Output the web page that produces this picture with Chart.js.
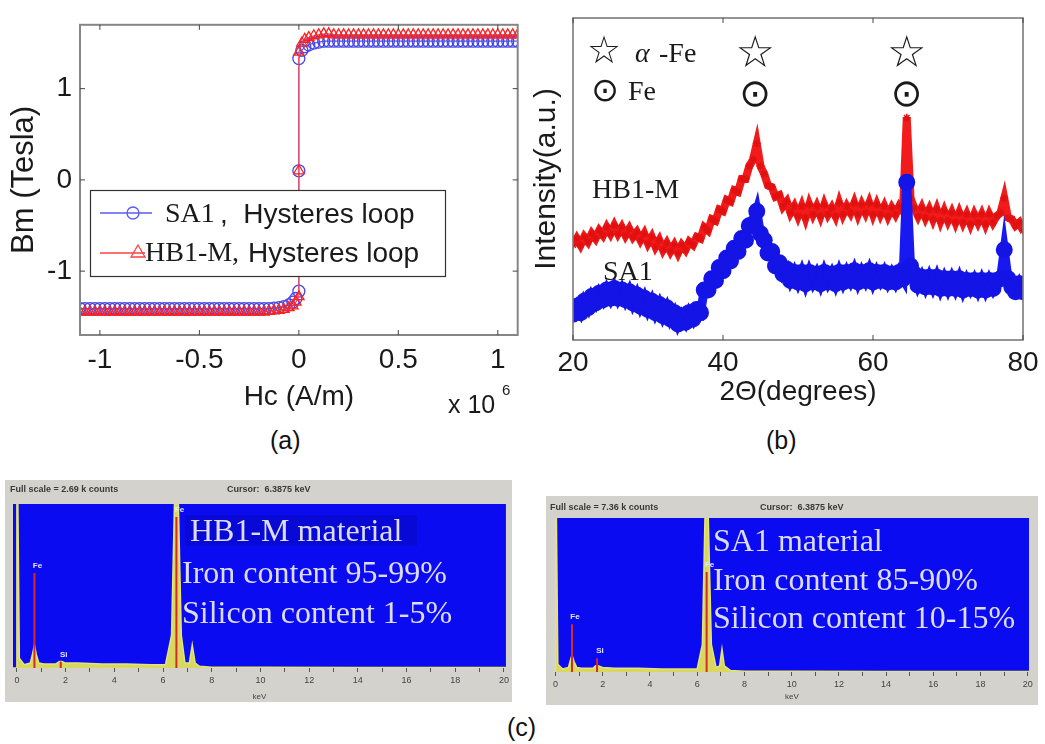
<!DOCTYPE html>
<html lang="en">
<head>
<meta charset="UTF-8">
<title>Hysteresis loop, XRD and EDS</title>
<script src="https://cdn.jsdelivr.net/npm/chart.js"></script>
<style>
  body { margin: 0; background: #fff; width: 1045px; height: 744px; position: relative; overflow: hidden;
         font-family: "Liberation Sans", Arial, sans-serif; }
  canvas { position: absolute; }
  .cap { position: absolute; font-size: 25px; color: #111; line-height: 30px; }
</style>
</head>
<body>
<canvas id="chart_hyst" width="525" height="420" style="left:0;top:0"></canvas>
<canvas id="chart_xrd" width="525" height="420" style="left:520px;top:0"></canvas>
<canvas id="chart_eds_hb1" width="507" height="222" style="left:5px;top:480px;background:#d4d2cc"></canvas>
<canvas id="chart_eds_sa1" width="492" height="209" style="left:546px;top:496px;background:#d4d2cc"></canvas>
<div class="cap" style="left:270px;top:425px">(a)</div>
<div class="cap" style="left:766px;top:425px">(b)</div>
<div class="cap" style="left:507px;top:712px">(c)</div>

<script>
// ---- (a) hysteresis loop ----
const hcValues = [-1.1,-1.075,-1.05,-1.025,-1,-0.975,-0.95,-0.925,-0.9,-0.875,-0.85,-0.825,-0.8,-0.775,-0.75,-0.725,-0.7,-0.675,-0.65,
  -0.625,-0.6,-0.575,-0.55,-0.525,-0.5,-0.475,-0.45,-0.425,-0.4,-0.375,-0.35,-0.325,-0.3,-0.275,-0.25,-0.225,-0.2,-0.175,
  -0.15,-0.125,-0.1,-0.075,-0.05,-0.03,-0.015,0,0,0,0.015,0.03,0.05,0.075,0.1,0.125,0.15,
  0.175,0.2,0.225,0.25,0.275,0.3,0.325,0.35,0.375,0.4,0.425,0.45,0.475,0.5,0.525,0.55,0.575,0.6,0.625,
  0.65,0.675,0.7,0.725,0.75,0.775,0.8,0.825,0.85,0.875,0.9,0.925,0.95,0.975,1,1.025,1.05,1.075,1.1];
const bmSA1 = [-1.41,-1.41,-1.41,-1.41,-1.41,-1.41,-1.41,-1.41,-1.41,-1.41,-1.41,-1.41,-1.41,-1.41,-1.41,-1.41,-1.41,-1.41,-1.41,
  -1.41,-1.41,-1.41,-1.41,-1.41,-1.41,-1.41,-1.41,-1.41,-1.41,-1.41,-1.41,-1.41,-1.41,-1.41,-1.41,-1.41,-1.41,-1.41,
  -1.41,-1.405,-1.40,-1.39,-1.37,-1.34,-1.30,-1.22,0.10,1.33,1.42,1.46,1.48,1.50,1.51,1.52,1.52,
  1.52,1.52,1.52,1.52,1.52,1.52,1.52,1.52,1.52,1.52,1.52,1.52,1.52,1.52,1.52,1.52,1.52,1.52,1.52,
  1.52,1.52,1.52,1.52,1.52,1.52,1.52,1.52,1.52,1.52,1.52,1.52,1.52,1.52,1.52,1.52,1.52,1.52,1.52];
const bmHB1 = [-1.45,-1.45,-1.45,-1.45,-1.45,-1.45,-1.45,-1.45,-1.45,-1.45,-1.45,-1.45,-1.45,-1.45,-1.45,-1.45,-1.45,-1.45,-1.45,
  -1.45,-1.45,-1.45,-1.45,-1.45,-1.45,-1.45,-1.45,-1.45,-1.45,-1.45,-1.45,-1.45,-1.45,-1.45,-1.45,-1.45,-1.45,-1.45,
  -1.44,-1.435,-1.43,-1.42,-1.40,-1.38,-1.34,-1.28,0.10,1.40,1.50,1.54,1.56,1.58,1.59,1.60,1.60,
  1.59,1.59,1.59,1.59,1.59,1.59,1.59,1.59,1.59,1.59,1.59,1.59,1.59,1.59,1.59,1.59,1.59,1.59,1.59,
  1.59,1.59,1.59,1.59,1.59,1.59,1.59,1.59,1.59,1.59,1.59,1.59,1.59,1.59,1.59,1.59,1.59,1.59,1.59];
const hcTicks = [-1, -0.5, 0, 0.5, 1];
const bmTicks = [-1, 0, 1];

// ---- (b) XRD ----
const twoTheta = [20,20.5,21,21.5,22,22.5,23,23.5,24,24.5,25,25.5,26,26.5,27,27.5,28,28.5,29,29.5,
  30,30.5,31,31.5,32,32.5,33,33.5,34,34.5,35,35.5,36,36.5,37,37.5,38,38.5,39,39.5,
  40,40.5,41,41.5,42,42.5,43,43.5,44,44.5,45,45.5,46,46.5,47,47.5,48,48.5,49,49.5,
  50,50.5,51,51.5,52,52.5,53,53.5,54,54.5,55,55.5,56,56.5,57,57.5,58,58.5,59,59.5,
  60,60.5,61,61.5,62,62.5,63,63.5,64,64.5,65,65.5,66,66.5,67,67.5,68,68.5,69,69.5,
  70,70.5,71,71.5,72,72.5,73,73.5,74,74.5,75,75.5,76,76.5,77,77.5,78,78.5,79,79.5,80];
const intHB1 = [29.5,31.5,29.5,32,30.5,33,31.5,34,32.5,35,
  33,35.5,33,35,32.5,34.5,32,33.5,31,33,
  30,32,29,31,28,30,27.5,29.5,27,29.5,
  28,30.5,29.5,32,31.5,35,34,37.5,37,40.5,
  40,43.5,43,46.5,46,50,50,54,56,61,
  54,51.5,48,47.5,44.5,45,41.5,43,39.5,41.5,
  38.5,41.5,38,42,39,41.5,38.5,42,39,41,
  38.5,42.5,39,41.5,39.5,42.5,39,42,39.5,42.5,
  39,42,39,41.5,38.5,41,39,41.5,40,69,
  44,41,38.5,41,38,40.5,37.5,40.5,37,40,
  37,39.5,36.5,39.5,36.5,39,36,39,36.5,39,
  36,39,36.5,38.5,39.5,44,38,37.5,35.5,36.5,34];
const intSA1 = [8,10.5,8.5,12,10,13.5,11.5,14.5,12.5,15.5,
  13,16,13,15.5,12.5,15,11.5,14,10.5,13,
  9.5,12,8.5,11,7.5,10,6.5,8.5,5,7.5,
  5.5,8.5,6.5,9.5,8.5,15.5,15.5,19,18.5,22.5,
  21.5,25.5,24.5,28.5,27.5,31.5,31,35.5,36,40,
  33,31,27,27.5,23,24,20.5,22,18.5,21,
  18,21,17.5,21,18,20.5,17.5,21,18,20.5,
  17.5,21,18,21,18.5,21.5,18,21,18.5,21.5,
  18,21,18.5,21,18,20.5,18,21,19,49,
  23,20.5,17,19.5,16.5,19.5,16.5,19.5,16,19,
  16,19,16,19,15.5,18.5,16,18.5,15.5,18.5,
  15.5,18.5,16,18.5,19,28,19,16.5,15,17.5,15];
const thetaTicks = [20, 40, 60, 80];
const peakTheta = [44.3, 64.5];

// ---- (c) EDS spectra ----
const keVTicks = [0,1,2,3,4,5,6,7,8,9,10,11,12,13,14,15,16,17,18,19,20];
const edsKeVHB1 = [-0.16,-0.02,0.0,0.04,0.1,0.3,0.55,0.65,0.72,0.8,0.9,1.1,1.6,1.75,1.85,2.0,2.5,3.5,4.5,5.5,6.1,6.35,6.47,6.55,6.63,6.75,6.9,7.08,7.2,7.32,7.5,8,10,14,20.08];
const edsCntHB1 = [0,0,100,100,6,2,3,9,14,8,3,2.5,2.5,4,4,3,3,2.5,2.5,2,2,20,100,100,100,20,3,3,14,3,1,0.5,0.5,0.3,0.3];
const markKeVHB1 = [0.72, 1.8, 6.55];
const markTopHB1 = [58, 4, 92];
const markNameHB1 = ['Fe', 'Si', 'Fe'];

const edsKeVSA1 = [-0.05,-0.02,0.0,0.04,0.1,0.3,0.55,0.62,0.7,0.78,0.9,1.1,1.6,1.7,1.8,2.0,2.5,3.5,4.5,5.5,6.0,6.22,6.33,6.4,6.47,6.6,6.8,6.95,7.05,7.15,7.4,8,10,14,20.05];
const edsCntSA1 = [0,0,100,100,5,2,3,7,11,7,3,2.5,2.5,4,4,3,2.5,2.5,2,2,2,18,100,100,100,18,3,4,15,4,1,0.5,0.5,0.3,0.3];
const markKeVSA1 = [0.7, 1.76, 6.4];
const markTopSA1 = [31, 9, 65];
const markNameSA1 = ['Fe', 'Si', 'Fe'];

const sans = '"Liberation Sans", Arial, sans-serif';
const serif = '"Liberation Serif", "Times New Roman", serif';
Chart.defaults.font.family = sans;
Chart.defaults.animation = false;

function pts(xs, ys) { return xs.map((x, i) => ({ x: x, y: ys[i] })); }
function fixTicks(list) { return scale => { scale.ticks = list.map(v => ({ value: v })); }; }

// matlab style box with inward ticks
const matlabBox = {
  id: 'matlabBox',
  afterDraw(chart, args, opts) {
    const { ctx, chartArea: a, scales } = chart;
    ctx.save();
    ctx.strokeStyle = opts.color || '#808080';
    ctx.lineWidth = opts.width || 2;
    ctx.strokeRect(a.left, a.top, a.right - a.left, a.bottom - a.top);
    ctx.lineWidth = 1;
    ctx.strokeStyle = '#444';
    ctx.beginPath();
    scales.x.ticks.forEach(t => {
      const p = scales.x.getPixelForValue(t.value);
      ctx.moveTo(p, a.bottom); ctx.lineTo(p, a.bottom - 5);
      ctx.moveTo(p, a.top); ctx.lineTo(p, a.top + 5);
    });
    if (opts.yTicks) {
      scales.y.ticks.forEach(t => {
        const p = scales.y.getPixelForValue(t.value);
        ctx.moveTo(a.left, p); ctx.lineTo(a.left + 5, p);
        ctx.moveTo(a.right, p); ctx.lineTo(a.right - 5, p);
      });
    }
    ctx.stroke();
    ctx.restore();
  }
};

// legend box and x10^6 for panel (a)
const hystLegend = {
  id: 'hystLegend',
  afterDraw(chart) {
    const ctx = chart.ctx;
    ctx.save();
    ctx.fillStyle = '#fff';
    ctx.fillRect(90, 190, 355, 86);
    ctx.strokeStyle = '#333';
    ctx.lineWidth = 1.2;
    ctx.strokeRect(90.5, 190.5, 355, 86);
    ctx.lineWidth = 1.3;
    // SA1 row
    ctx.strokeStyle = '#5a5aff';
    ctx.beginPath(); ctx.moveTo(100, 213); ctx.lineTo(152, 213); ctx.stroke();
    ctx.beginPath(); ctx.arc(133, 213, 6, 0, Math.PI * 2); ctx.stroke();
    // HB1-M row
    ctx.strokeStyle = '#ff4040';
    ctx.beginPath(); ctx.moveTo(100, 253); ctx.lineTo(145, 253); ctx.stroke();
    ctx.beginPath(); ctx.moveTo(138, 245); ctx.lineTo(145, 257); ctx.lineTo(131, 257); ctx.closePath(); ctx.stroke();
    ctx.fillStyle = '#1a1a1a';
    ctx.textBaseline = 'middle';
    ctx.font = '28px ' + serif;
    ctx.fillText('SA1', 165, 215);
    ctx.fillText('HB1-M,', 145, 254);
    ctx.font = '28px ' + sans;
    ctx.fillText(',  Hysteres loop', 220, 215);
    ctx.fillText('Hysteres loop', 248, 254);
    // exponent label
    ctx.font = '25px ' + sans;
    ctx.textBaseline = 'alphabetic';
    ctx.fillText('x 10', 448, 413);
    ctx.font = '15px ' + sans;
    ctx.fillText('6', 502, 395);
    ctx.restore();
  }
};

new Chart(document.getElementById('chart_hyst'), {
  type: 'scatter',
  data: {
    datasets: [
      { label: 'SA1 , Hysteres loop', data: pts(hcValues, bmSA1), showLine: true, order: 2,
        borderColor: '#5a5aff', borderWidth: 1.2, pointStyle: 'circle', pointRadius: 6,
        pointBorderColor: '#4646e6', pointBorderWidth: 1.3, pointBackgroundColor: 'rgba(0,0,0,0)' },
      { label: 'HB1-M,Hysteres loop', data: pts(hcValues, bmHB1), showLine: true, order: 1,
        borderColor: '#ff4a4a', borderWidth: 1.2, pointStyle: 'triangle', pointRadius: 6,
        pointBorderColor: '#ff2020', pointBorderWidth: 1.3, pointBackgroundColor: 'rgba(0,0,0,0)' }
    ]
  },
  options: {
    responsive: false,
    layout: { padding: { left: 0, right: 6, top: 15, bottom: 0 } },
    plugins: { legend: { display: false }, tooltip: { enabled: false }, matlabBox: { color: '#858585', width: 2, yTicks: true } },
    scales: {
      x: {
        type: 'linear', min: -1.1, max: 1.1,
        afterFit: s => { s.height = 85; }, afterBuildTicks: fixTicks(hcTicks),
        grid: { display: false, drawTicks: false }, border: { display: false },
        ticks: { font: { size: 28 }, color: '#1a1a1a', padding: 8, callback: v => String(v) },
        title: { display: true, text: 'Hc (A/m)', font: { size: 28 }, color: '#1a1a1a', padding: { bottom: 6 } }
      },
      y: {
        min: -1.7, max: 1.7,
        afterFit: s => { s.width = 80; }, afterBuildTicks: fixTicks(bmTicks),
        grid: { display: false, drawTicks: false }, border: { display: false },
        ticks: { font: { size: 28 }, color: '#1a1a1a', padding: 8, callback: v => String(v) },
        title: { display: true, text: 'Bm (Tesla)', font: { size: 31 }, color: '#1a1a1a', padding: { top: 6 } }
      }
    }
  },
  plugins: [matlabBox, hystLegend]
});

// ---- panel (b) annotations ----
const xrdNotes = {
  id: 'xrdNotes',
  afterDraw(chart) {
    const ctx = chart.ctx;
    const xs = chart.scales.x;
    ctx.save();
    ctx.fillStyle = '#1a1a1a';
    ctx.textBaseline = 'middle';
    ctx.textAlign = 'center';
    peakTheta.forEach(t => {
      const px = xs.getPixelForValue(t);
      ctx.font = '44px "DejaVu Sans"';
      ctx.fillText('\u2606', px, 56);
      ctx.font = '38px "DejaVu Sans"';
      ctx.fillText('\u2299', px, 96);
    });
    ctx.font = '38px "DejaVu Sans"';
    ctx.fillText('\u2606', 84, 53);
    ctx.font = '33px "DejaVu Sans"';
    ctx.fillText('\u2299', 85, 92);
    ctx.textAlign = 'left';
    ctx.font = 'italic 28px ' + serif;
    ctx.fillText('\u03b1', 115, 55);
    ctx.font = '28px ' + serif;
    ctx.fillText('-Fe', 139, 55);
    ctx.fillText('Fe', 108, 93);
    ctx.fillText('HB1-M', 72, 191);
    ctx.fillText('SA1', 83, 273);
    ctx.restore();
  }
};

new Chart(document.getElementById('chart_xrd'), {
  type: 'scatter',
  data: {
    datasets: [
      { label: 'HB1-M', data: pts(twoTheta, intHB1), showLine: true, order: 2,
        borderColor: '#f21a1a', borderWidth: 8, pointStyle: 'star', pointRadius: 4,
        pointBorderColor: '#e01010', pointBorderWidth: 1.5 },
      { label: 'SA1', data: pts(twoTheta, intSA1), showLine: true, order: 1,
        borderColor: '#1818f0', borderWidth: 9, pointStyle: 'circle', pointRadius: 4,
        pointBorderColor: '#1414e6', pointBackgroundColor: '#1414e6' }
    ]
  },
  options: {
    responsive: false,
    layout: { padding: { left: 0, right: 22, top: 18, bottom: 0 } },
    plugins: { legend: { display: false }, tooltip: { enabled: false }, matlabBox: { color: '#7a7a7a', width: 1.6 } },
    scales: {
      x: {
        type: 'linear', min: 20, max: 80,
        afterFit: s => { s.height = 80; }, afterBuildTicks: fixTicks(thetaTicks),
        grid: { display: false, drawTicks: false }, border: { display: false },
        ticks: { font: { size: 28 }, color: '#1a1a1a', padding: 6 },
        title: { display: true, text: '2\u0398(degrees)', font: { size: 28 }, color: '#1a1a1a', padding: { bottom: 11 } }
      },
      y: {
        min: 0, max: 100,
        afterFit: s => { s.width = 53; },
        grid: { display: false, drawTicks: false }, border: { display: false },
        ticks: { display: false },
        title: { display: true, text: 'Intensity(a.u.)', font: { size: 30 }, color: '#1a1a1a', padding: { top: 9 } }
      }
    }
  },
  plugins: [matlabBox, xrdNotes]
});

// ---- panel (c) EDS ----
const blueArea = {
  id: 'blueArea',
  beforeDraw(chart) {
    const { ctx, chartArea: a } = chart;
    ctx.save();
    ctx.fillStyle = '#0b0bf2';
    ctx.fillRect(a.left, a.top, a.right - a.left, a.bottom - a.top);
    ctx.restore();
  }
};

const edsText = {
  id: 'edsText',
  afterDraw(chart, args, o) {
    const ctx = chart.ctx;
    const xs = chart.scales.x, ys = chart.scales.y;
    ctx.save();
    ctx.textBaseline = 'middle';
    ctx.fillStyle = '#3a3a3a';
    ctx.font = 'bold 9px ' + sans;
    ctx.fillText(o.header, o.headerX, o.headerY);
    ctx.fillText('Cursor:  6.3875 keV', o.cursorX, o.headerY);
    // line marker names
    ctx.fillStyle = '#e6e6ff';
    ctx.font = 'bold 8px ' + sans;
    ctx.textAlign = 'center';
    o.names.forEach((n, i) => {
      ctx.fillText(n, xs.getPixelForValue(o.keV[i]) + 3, ys.getPixelForValue(o.top[i]) - 7);
    });
    ctx.textAlign = 'left';
    if (o.box) {
      ctx.fillStyle = 'rgba(0,0,90,0.18)';
      ctx.fillRect(o.box[0], o.box[1], o.box[2], o.box[3]);
    }
    ctx.fillStyle = '#dcdcf6';
    ctx.font = '32px ' + serif;
    o.lines.forEach((t, i) => ctx.fillText(t, o.textX[i], o.textY[i]));
    ctx.restore();
  }
};

function makeEds(id, keV, cnt, markKeV, markTop, markName, pad, axisH, keVMin, keVMax, textOpts) {
  const markData = [];
  markKeV.forEach((k, i) => {
    markData.push({ x: k, y: 0 }, { x: k, y: markTop[i] }, { x: k, y: null });
  });
  new Chart(document.getElementById(id), {
    type: 'scatter',
    data: {
      datasets: [
        { label: 'markers', data: markData, showLine: true, spanGaps: false, order: 1,
          borderColor: '#d42a2a', borderWidth: 2, pointRadius: 0 },
        { label: 'spectrum', data: pts(keV, cnt), showLine: true, order: 2, fill: 'origin',
          borderColor: '#e4e47a', backgroundColor: '#d8d860', borderWidth: 1.5, pointRadius: 0, tension: 0 }
      ]
    },
    options: {
      responsive: false,
      layout: { padding: pad },
      plugins: { legend: { display: false }, tooltip: { enabled: false }, edsText: Object.assign({ keV: markKeV, top: markTop, names: markName }, textOpts) },
      scales: {
        x: {
          type: 'linear', min: keVMin, max: keVMax,
          afterFit: s => { s.height = axisH; }, afterBuildTicks: fixTicks(keVTicks),
          grid: { drawOnChartArea: false, drawTicks: true, tickLength: 4, color: '#555' }, border: { display: false },
          ticks: { font: { size: 9 }, color: '#444', padding: 3, autoSkip: false, maxRotation: 0,
                   callback: v => (v % 2 === 0 ? String(v) : '') },
          title: { display: true, text: 'keV', font: { size: 8 }, color: '#444', padding: { bottom: textOpts.keVPad, top: 0 } }
        },
        y: { min: 0, max: 100, display: false }
      }
    },
    plugins: [blueArea, edsText]
  });
}

makeEds('chart_eds_hb1', edsKeVHB1, edsCntHB1, markKeVHB1, markTopHB1, markNameHB1,
  { left: 8, right: 5, top: 24, bottom: 0 }, 34, -0.16, 20.08,
  { header: 'Full scale = 2.69 k counts', headerX: 5, headerY: 10, cursorX: 222, keVPad: 0,
    box: [180, 35, 232, 31],
    lines: ['HB1-M material', 'Iron content 95-99%', 'Silicon content 1-5%'],
    textX: [185, 177, 177], textY: [53, 95, 135] });

makeEds('chart_eds_sa1', edsKeVSA1, edsCntSA1, markKeVSA1, markTopSA1, markNameSA1,
  { left: 9, right: 9, top: 22, bottom: 0 }, 33, -0.02, 20.05,
  { header: 'Full scale = 7.36 k counts', headerX: 4, headerY: 12, cursorX: 214, keVPad: 3,
    lines: ['SA1 material', 'Iron content 85-90%', 'Silicon content 10-15%'],
    textX: [167, 167, 167], textY: [47, 86, 124] });
</script>
</body>
</html>
